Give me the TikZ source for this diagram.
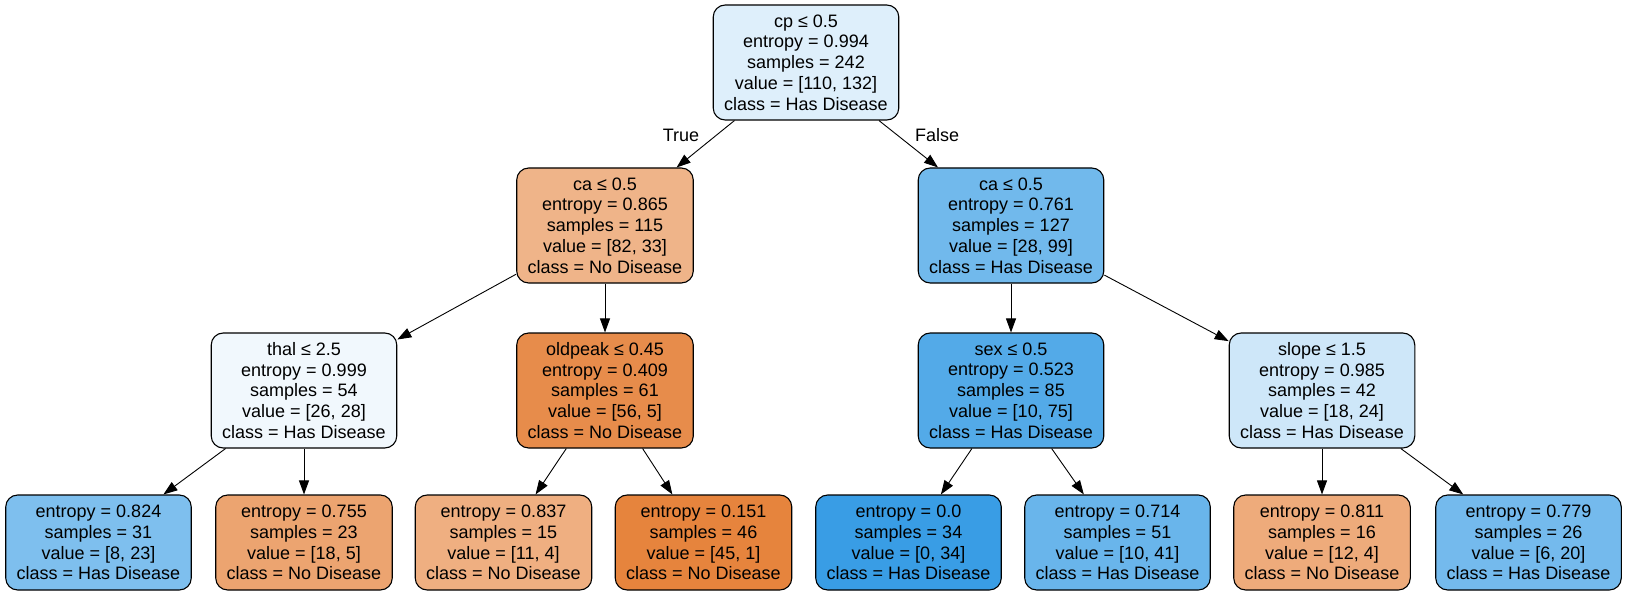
\documentclass[tikz,border=0pt]{standalone}
\usepackage{fontspec}
\setmainfont{Liberation Sans}
\usetikzlibrary{arrows.meta}
\definecolor{croot}{RGB}{222,239,251}
\definecolor{ccaL}{RGB}{239,180,137}
\definecolor{ccaR}{RGB}{113,185,236}
\definecolor{cthal}{RGB}{241,248,253}
\definecolor{cold}{RGB}{231,140,75}
\definecolor{csex}{RGB}{83,170,232}
\definecolor{cslope}{RGB}{206,231,249}
\definecolor{cla}{RGB}{126,191,238}
\definecolor{clb}{RGB}{236,164,112}
\definecolor{clc}{RGB}{239,175,129}
\definecolor{cld}{RGB}{230,132,61}
\definecolor{cle}{RGB}{57,157,229}
\definecolor{clf}{RGB}{105,181,235}
\definecolor{clg}{RGB}{238,171,123}
\definecolor{clh}{RGB}{116,186,237}
\tikzset{
  tn/.style={draw=black, line width=1.1pt, rounded corners=12pt, align=center,
    font=\fontsize{18}{20.8}\selectfont, inner xsep=11pt, inner ysep=0pt,
    minimum height=115pt},
  leafbox/.style={tn, minimum height=95pt},
  edge/.style={line width=0.9pt, -{Triangle[length=14pt,width=10pt]}},
  lbl/.style={font=\fontsize{18}{20.8}\selectfont, inner sep=0pt}
}
\begin{document}
\begin{tikzpicture}[x=1pt,y=-1pt]
\fill[white] (0,0) rectangle (1627,596);
\useasboundingbox (0,0) rectangle (1627,596);

\node[tn, fill=croot] (root) at (806,62.5) {cp ≤ 0.5\\entropy = 0.994\\samples = 242\\value = [110, 132]\\class = Has Disease};
\node[tn, fill=ccaL] (caL) at (605,225.5) {ca ≤ 0.5\\entropy = 0.865\\samples = 115\\value = [82, 33]\\class = No Disease};
\node[tn, fill=ccaR] (caR) at (1011,225.5) {ca ≤ 0.5\\entropy = 0.761\\samples = 127\\value = [28, 99]\\class = Has Disease};
\node[tn, fill=cthal] (thal) at (304,390.5) {thal ≤ 2.5\\entropy = 0.999\\samples = 54\\value = [26, 28]\\class = Has Disease};
\node[tn, fill=cold] (old) at (605,390.5) {oldpeak ≤ 0.45\\entropy = 0.409\\samples = 61\\value = [56, 5]\\class = No Disease};
\node[tn, fill=csex] (sex) at (1011,390.5) {sex ≤ 0.5\\entropy = 0.523\\samples = 85\\value = [10, 75]\\class = Has Disease};
\node[tn, fill=cslope] (slope) at (1322,390.5) {slope ≤ 1.5\\entropy = 0.985\\samples = 42\\value = [18, 24]\\class = Has Disease};

\node[leafbox, fill=cla] (la) at (98.5,542.5) {entropy = 0.824\\samples = 31\\value = [8, 23]\\class = Has Disease};
\node[leafbox, fill=clb] (lb) at (304,542.5) {entropy = 0.755\\samples = 23\\value = [18, 5]\\class = No Disease};
\node[leafbox, fill=clc] (lc) at (503.5,542.5) {entropy = 0.837\\samples = 15\\value = [11, 4]\\class = No Disease};
\node[leafbox, fill=cld] (ld) at (703.5,542.5) {entropy = 0.151\\samples = 46\\value = [45, 1]\\class = No Disease};
\node[leafbox, fill=cle] (le) at (908.5,542.5) {entropy = 0.0\\samples = 34\\value = [0, 34]\\class = Has Disease};
\node[leafbox, fill=clf] (lf) at (1117.5,542.5) {entropy = 0.714\\samples = 51\\value = [10, 41]\\class = Has Disease};
\node[leafbox, fill=clg] (lg) at (1322,542.5) {entropy = 0.811\\samples = 16\\value = [12, 4]\\class = No Disease};
\node[leafbox, fill=clh] (lh) at (1528.5,542.5) {entropy = 0.779\\samples = 26\\value = [6, 20]\\class = Has Disease};

\draw[edge] (root) -- (caL);
\draw[edge] (root) -- (caR);
\draw[edge] (caL) -- (thal);
\draw[edge] (caL) -- (old);
\draw[edge] (caR) -- (sex);
\draw[edge] (caR) -- (slope);
\draw[edge] (thal) -- (la);
\draw[edge] (thal) -- (lb);
\draw[edge] (old) -- (lc);
\draw[edge] (old) -- (ld);
\draw[edge] (sex) -- (le);
\draw[edge] (sex) -- (lf);
\draw[edge] (slope) -- (lg);
\draw[edge] (slope) -- (lh);

\node[lbl] (tlab) at (681,135) {True};
\node[lbl] (flab) at (937,135) {False};
\end{tikzpicture}
\end{document}
